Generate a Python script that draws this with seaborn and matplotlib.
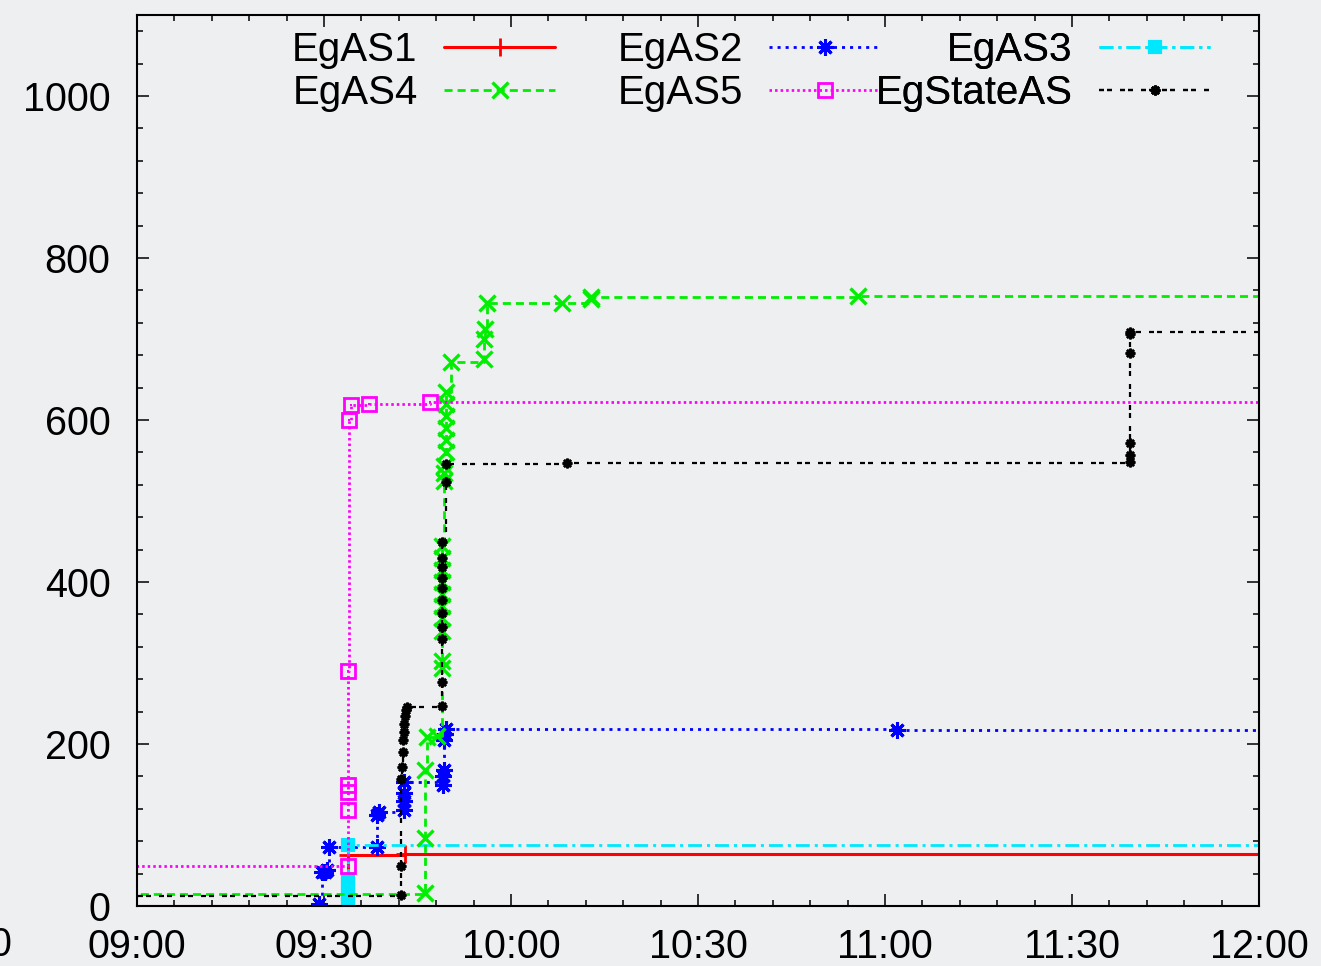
import matplotlib
matplotlib.use("Agg")
import matplotlib.pyplot as plt
from matplotlib.lines import Line2D
from matplotlib.ticker import MultipleLocator, FixedLocator, FixedFormatter
import seaborn as sns

sns.set_theme(style="ticks")
plt.rcParams['font.family'] = ['Liberation Sans', 'DejaVu Sans']

# ---------------- data (minutes after 09:00) ----------------
tick_minutes = [0, 30, 60, 90, 120, 150, 180]
tick_labels = ["09:00", "09:30", "10:00", "10:30", "11:00", "11:30", "12:00"]
y_ticks = [0, 200, 400, 600, 800, 1000]

as1_t = [-10, 33.8, 43.0]
as1_v = [0, 63, 64]

as2_t = [-10, 29.2, 29.7, 30.1, 30.5, 30.8, 38.5, 38.5, 38.8, 42.8, 42.8, 42.9, 42.9,
         49.1, 49.1, 49.2, 49.3, 49.4, 49.5, 121.9]
as2_v = [0, 2, 42, 42, 44, 73, 73, 112, 116, 118, 130, 140, 153,
         150, 160, 168, 205, 212, 218, 217]

as3_t = [-10, 33.8, 33.8, 33.8, 33.8, 33.8, 33.8, 33.9]
as3_v = [0, 2, 8, 14, 20, 26, 32, 75]

as4_t = [-10, 46.2, 46.2, 46.2, 46.5, 48.1, 48.9, 48.9, 49.0, 49.0, 49.0, 49.0, 49.0,
         49.0, 49.0, 49.0, 49.3, 49.3, 49.3, 49.5, 49.5, 49.5, 49.5, 49.5, 49.5,
         50.4, 55.6, 55.7, 55.8, 56.2, 68.2, 72.8, 72.9, 115.7]
as4_v = [15, 16, 84, 168, 209, 210, 294, 302, 340, 355, 370, 385, 400,
         415, 430, 444, 525, 535, 543, 560, 575, 590, 605, 620, 634,
         672, 675, 700, 712, 745, 745, 750, 752, 753]

as5_t = [-10, 33.8, 33.8, 33.8, 33.8, 33.9, 34.0, 34.3, 37.2, 47.0]
as5_v = [49, 49, 119, 141, 150, 290, 600, 618, 620, 622]

st_t = [-10, 42.4, 42.4, 42.4, 42.5, 42.6, 42.7, 42.8, 42.9, 43.0, 43.1, 43.3,
        48.9, 48.9, 48.9, 48.9, 48.9, 48.9, 48.9, 48.9, 48.9, 48.9, 48.9,
        49.5, 49.6, 69.0, 159.3, 159.3, 159.3, 159.3, 159.3, 159.3]
st_v = [12, 13, 50, 157, 172, 190, 205, 215, 225, 235, 242, 246,
        247, 277, 330, 345, 362, 378, 392, 405, 418, 430, 450,
        524, 546, 547, 548, 557, 571, 683, 706, 709]

labels = ["EgAS1", "EgAS2", "EgAS3", "EgAS4", "EgAS5", "EgStateAS"]

# ---------------- styles ----------------
BG = '#eeeff1'
styles = {
    "EgAS1": dict(color='#ff0000', ls='-', lw=2.2, marker='+', ms=13, mew=2.0, mfc='#ff0000'),
    "EgAS2": dict(color='#0000ff', ls=(0, (1.1, 1.8)), lw=2.0, marker=(8, 2, 0), ms=12, mew=2.2, mfc='#0000ff'),
    "EgAS3": dict(color='#00e8ff', ls=(0, (5, 1.8, 1.1, 1.8)), lw=2.0, marker='s', ms=9, mew=1.5, mfc='#00e8ff'),
    "EgAS4": dict(color='#00ee00', ls=(0, (2.9, 1.8)), lw=2.0, marker='x', ms=11, mew=2.4, mfc='#00ee00'),
    "EgAS5": dict(color='#ff00ff', ls=(0, (0.9, 1.1)), lw=2.0, marker='s', ms=10, mew=2.0, mfc='none'),
    "EgStateAS": dict(color='#000000', ls=(0, (2.25, 1.35, 2.25, 3.6)), lw=1.6, marker=(8, 2, 0), ms=7, mew=1.8, mfc='#000000'),
}
series = {
    "EgAS1": (as1_t, as1_v),
    "EgAS2": (as2_t, as2_v),
    "EgAS3": (as3_t, as3_v),
    "EgAS4": (as4_t, as4_v),
    "EgAS5": (as5_t, as5_v),
    "EgStateAS": (st_t, st_v),
}
draw_order = ["EgAS1", "EgAS2", "EgAS3", "EgAS4", "EgAS5", "EgStateAS"]

fig = plt.figure(figsize=(13.21, 9.66), dpi=100, facecolor=BG)
ax = fig.add_axes([137 / 1321, 60 / 966, 1122 / 1321, 891 / 966])
ax.set_facecolor(BG)

for name in draw_order:
    t, v = series[name]
    s = styles[name]
    t_ext = list(t) + [tick_minutes[-1]]
    v_ext = list(v) + [v[-1]]
    sns.lineplot(x=t_ext, y=v_ext, ax=ax, estimator=None, sort=False,
                 drawstyle='steps-post', color=s['color'], linestyle=s['ls'],
                 linewidth=s['lw'], legend=False)
    sns.lineplot(x=t, y=v, ax=ax, estimator=None, sort=False, linestyle='none',
                 color=s['color'], marker=s['marker'], markersize=s['ms'],
                 markeredgewidth=s['mew'], markeredgecolor=s['color'],
                 markerfacecolor=s['mfc'], legend=False)
    if name == "EgAS5":
        sns.lineplot(x=t, y=v, ax=ax, estimator=None, sort=False, linestyle='none',
                     color=s['color'], marker='s', markersize=2,
                     markeredgewidth=0, markeredgecolor=s['color'],
                     markerfacecolor=s['color'], legend=False)

ax.set_xlim(tick_minutes[0], tick_minutes[-1])
ax.set_ylim(0, 1100)
ax.xaxis.set_major_locator(FixedLocator(tick_minutes))
ax.xaxis.set_major_formatter(FixedFormatter(tick_labels))
ax.xaxis.set_minor_locator(MultipleLocator(6))
ax.yaxis.set_major_locator(FixedLocator(y_ticks))
ax.yaxis.set_minor_locator(MultipleLocator(40))
ax.set_xlabel("")
ax.set_ylabel("")

for sp in ax.spines.values():
    sp.set_visible(True)
    sp.set_color('black')
    sp.set_linewidth(1.5)

ax.tick_params(which='both', direction='in', top=True, right=True, color='black', width=1.1)
ax.tick_params(which='major', length=8.6, labelsize=28.5, labelcolor='black')
ax.tick_params(which='minor', length=4.3)
ax.tick_params(axis='x', which='major', pad=16)
ax.tick_params(axis='y', which='major', pad=19)

# cut-off tick label fragment at the left edge of the picture
fig.text(11 / 1321, 1 - 945 / 966, "0", ha='right', va='center', fontsize=28.5, color='black')

# ---------------- legend (three right-justified columns, gnuplot style) ----------------
def handle(name):
    s = styles[name]
    return Line2D([], [], color=s['color'], linestyle=s['ls'], linewidth=s['lw'],
                  marker=s['marker'], markersize=s['ms'], markeredgewidth=s['mew'],
                  markeredgecolor=s['color'], markerfacecolor=s['mfc'])

columns = [(["EgAS1", "EgAS4"], 0.3725), (["EgAS2", "EgAS5"], 0.6622), (["EgAS3", "EgStateAS"], 0.9563)]
for names, xr in columns:
    leg = ax.legend([handle(n) for n in names], names, loc='upper right',
                    bbox_to_anchor=(xr, 0.982), frameon=False, fontsize=29,
                    handlelength=2.75, handletextpad=0.66, labelspacing=0.12,
                    borderpad=0, borderaxespad=0, markerfirst=False, numpoints=1)
    for txt in leg.get_texts():
        txt.set_color('black')
    ax.add_artist(leg)

fig.savefig("out.png", dpi=100, facecolor=BG)
